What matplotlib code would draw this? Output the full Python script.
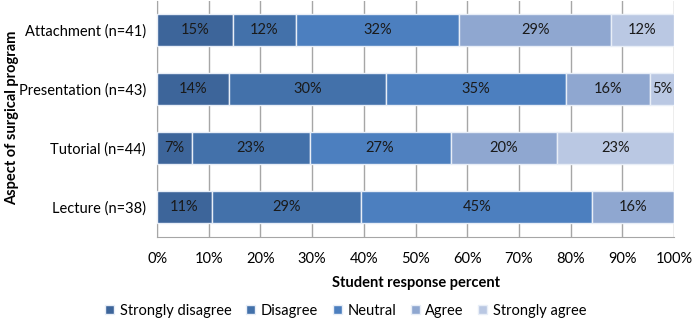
import matplotlib
matplotlib.use("Agg")
import matplotlib.pyplot as plt
import numpy as np

plt.rcParams['font.family'] = ['Lato', 'DejaVu Sans']

categories = ['Lecture (n=38)', 'Tutorial (n=44)', 'Presentation (n=43)', 'Attachment (n=41)']
levels = ['Strongly disagree', 'Disagree', 'Neutral', 'Agree', 'Strongly agree']
colors = ['#3d659a', '#4371aa', '#4c7fbf', '#8fa7d0', '#bac8e3']

# percent per level, rows follow categories (bottom to top)
strongly_disagree = [10.6, 6.8, 14.0, 14.6]
disagree = [28.9, 22.7, 30.2, 12.2]
neutral = [44.7, 27.3, 34.9, 31.7]
agree = [15.8, 20.5, 16.3, 29.3]
strongly_agree = [0.0, 22.7, 4.7, 12.2]

series = [strongly_disagree, disagree, neutral, agree, strongly_agree]

fig = plt.figure(figsize=(6.92, 3.18), dpi=100)
ax = fig.add_axes([0.227, 0.256, 0.747, 0.742])

y = np.arange(len(categories))
left = np.zeros(len(categories))
for name, vals, col in zip(levels, series, colors):
    vals = np.array(vals)
    ax.barh(y, vals, left=left, height=0.55, color=col, edgecolor='#e8eef7',
            linewidth=1, label=name, zorder=3)
    for yi, l, v in zip(y, left, vals):
        if v > 0:
            ax.text(l + v / 2, yi, f'{round(v):.0f}%', ha='center', va='center',
                    fontsize=10.5, color='#1a1a1a', zorder=4)
    left += vals

ax.set_xlim(0, 100)
ax.set_ylim(-0.5, 3.5)
ax.set_xticks(np.arange(0, 101, 10))
ax.set_xticklabels([f'{t}%' for t in range(0, 101, 10)], fontsize=10.5)
ax.set_yticks(y)
ax.set_yticklabels(categories, fontsize=10.5)
ax.tick_params(axis='y', length=0, pad=8)
ax.tick_params(axis='x', length=0, pad=11)
ax.xaxis.grid(True, color='#a6a6a6', linewidth=1, zorder=0)
for s in ['top', 'right']:
    ax.spines[s].set_visible(False)
for s in ['left', 'bottom']:
    ax.spines[s].set_color('#a6a6a6')

ax.set_xlabel('Student response percent', fontsize=10.5, fontweight='bold', labelpad=7)
fig.text(0.018, 0.63, 'Aspect of surgical program', rotation=90, fontsize=10.5,
         fontweight='bold', ha='center', va='center')

handles, labels = ax.get_legend_handles_labels()
fig.legend(handles, labels, loc='center', bbox_to_anchor=(0.5, 0.022), ncol=5,
           frameon=False, fontsize=10.5, handlelength=0.6, handleheight=0.6,
           handletextpad=0.4, columnspacing=1.0)

fig.savefig('out.png', dpi=100)
